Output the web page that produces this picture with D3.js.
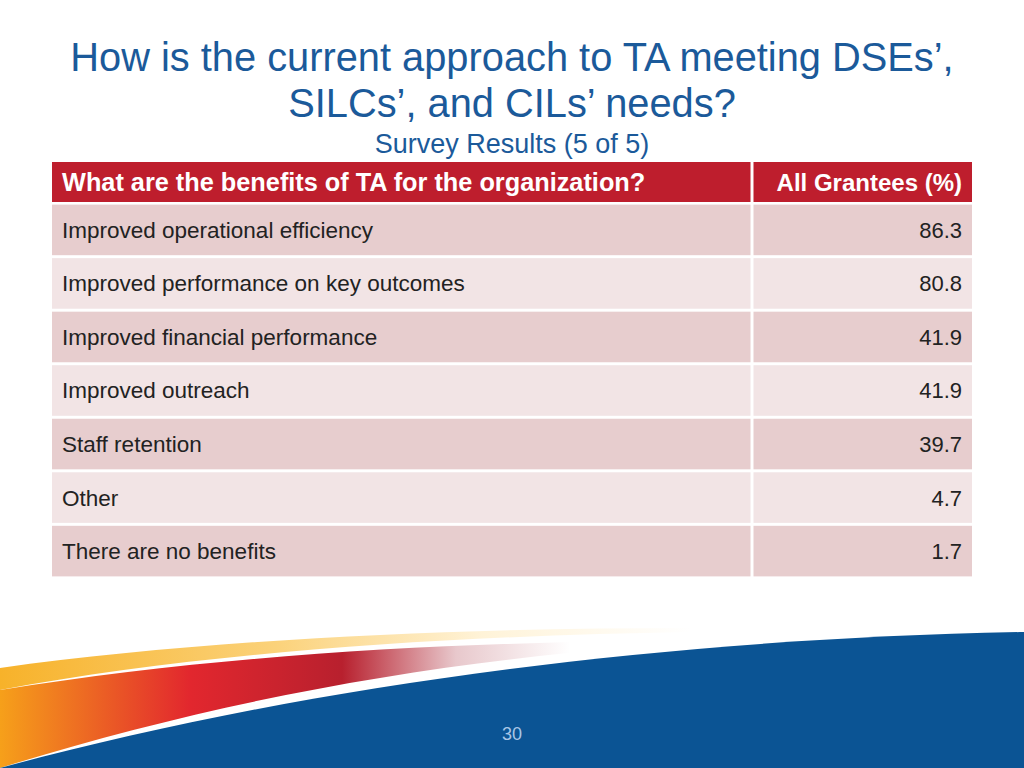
<!DOCTYPE html>
<html><head><meta charset="utf-8">
<script src="https://d3js.org/d3.v7.min.js"></script>
<style>body{margin:0;background:#fff}svg{display:block}</style>
</head><body>
<svg id="c" width="1024" height="768"></svg>
<script>
const titleLines = ["How is the current approach to TA meeting DSEs’,", "SILCs’, and CILs’ needs?"];
const subtitle = "Survey Results (5 of 5)";
const headers = ["What are the benefits of TA for the organization?", "All Grantees (%)"];
const categories = ["Improved operational efficiency","Improved performance on key outcomes","Improved financial performance","Improved outreach","Staff retention","Other","There are no benefits"];
const values = [86.3, 80.8, 41.9, 41.9, 39.7, 4.7, 1.7];
const pageNumber = "30";

const svg = d3.select("#c");
const font = "Liberation Sans, Arial, sans-serif";
const defs = svg.append("defs");

svg.selectAll("text.t").data(titleLines).join("text")
  .attr("x", 512).attr("y", (d,i)=>71+i*46).attr("text-anchor","middle")
  .attr("font-family",font).attr("font-size",39.8).attr("fill","#1b5a9a").text(d=>d);
svg.append("text").attr("x",512).attr("y",153).attr("text-anchor","middle")
  .attr("font-family",font).attr("font-size",27).attr("fill","#1b5a9a").text(subtitle);

const x0=52, xSplit=752, x1=972;
svg.append("rect").attr("x",x0).attr("y",162).attr("width",x1-x0).attr("height",40).attr("fill","#be1e2d");
svg.append("line").attr("x1",xSplit).attr("x2",xSplit).attr("y1",162).attr("y2",202).attr("stroke","#fff").attr("stroke-width",3);
svg.append("text").attr("x",62).attr("y",191).attr("font-family",font).attr("font-weight","bold").attr("font-size",25.3).attr("fill","#fff").text(headers[0]);
svg.append("text").attr("x",962).attr("y",191).attr("text-anchor","end").attr("font-family",font).attr("font-weight","bold").attr("font-size",24).attr("fill","#fff").text(headers[1]);

const y = d3.scaleBand().domain(categories).range([203,578]).paddingInner(0.055).paddingOuter(0.03);
const rows = svg.selectAll("g.r").data(categories).join("g").attr("transform",d=>`translate(0,${y(d)})`);
rows.append("rect").attr("x",x0).attr("width",xSplit-x0-1.5).attr("height",y.bandwidth()).attr("fill",(d,i)=>i%2?"#f2e4e5":"#e7cdce");
rows.append("rect").attr("x",xSplit+1.5).attr("width",x1-xSplit-1.5).attr("height",y.bandwidth()).attr("fill",(d,i)=>i%2?"#f2e4e5":"#e7cdce");
rows.append("text").attr("x",62).attr("y",y.bandwidth()/2+8).attr("font-family",font).attr("font-size",22.5).attr("fill","#222").text(d=>d);
rows.append("text").attr("x",962).attr("y",y.bandwidth()/2+8).attr("text-anchor","end").attr("font-family",font).attr("font-size",22).attr("fill","#222").text((d,i)=>values[i].toFixed(1));

const g1 = defs.append("linearGradient").attr("id","sw").attr("x1","0").attr("x2","1");
g1.append("stop").attr("offset","0").attr("stop-color","#f6a01a");
g1.append("stop").attr("offset","0.25").attr("stop-color","#e2272e");
g1.append("stop").attr("offset","0.45").attr("stop-color","#b8202e");
g1.append("stop").attr("offset","0.6").attr("stop-color","#e8c8cc");
g1.append("stop").attr("offset","0.75").attr("stop-color","#ffffff");
const g2 = defs.append("linearGradient").attr("id","sw2").attr("x1","0").attr("x2","1");
g2.append("stop").attr("offset","0").attr("stop-color","#f7b22a");
g2.append("stop").attr("offset","0.4").attr("stop-color","#fbd27a");
g2.append("stop").attr("offset","0.7").attr("stop-color","#fff3d8");
g2.append("stop").attr("offset","1").attr("stop-color","#ffffff");
svg.append("path").attr("d","M0,668 C200,640 450,628 690,628 L690,632 C450,636 200,652 0,690 Z").attr("fill","url(#sw2)");
svg.append("path").attr("d","M0,690 C250,650 500,640 760,640 C500,650 250,690 0,768 Z").attr("fill","url(#sw)");
svg.append("path").attr("d","M0,768 C250,700 600,640 1024,632 L1024,768 Z").attr("fill","#0b5494");
svg.append("text").attr("x",512).attr("y",740).attr("text-anchor","middle").attr("font-family",font).attr("font-size",18).attr("fill","#a9c6e6").text(pageNumber);
</script>
</body></html>
